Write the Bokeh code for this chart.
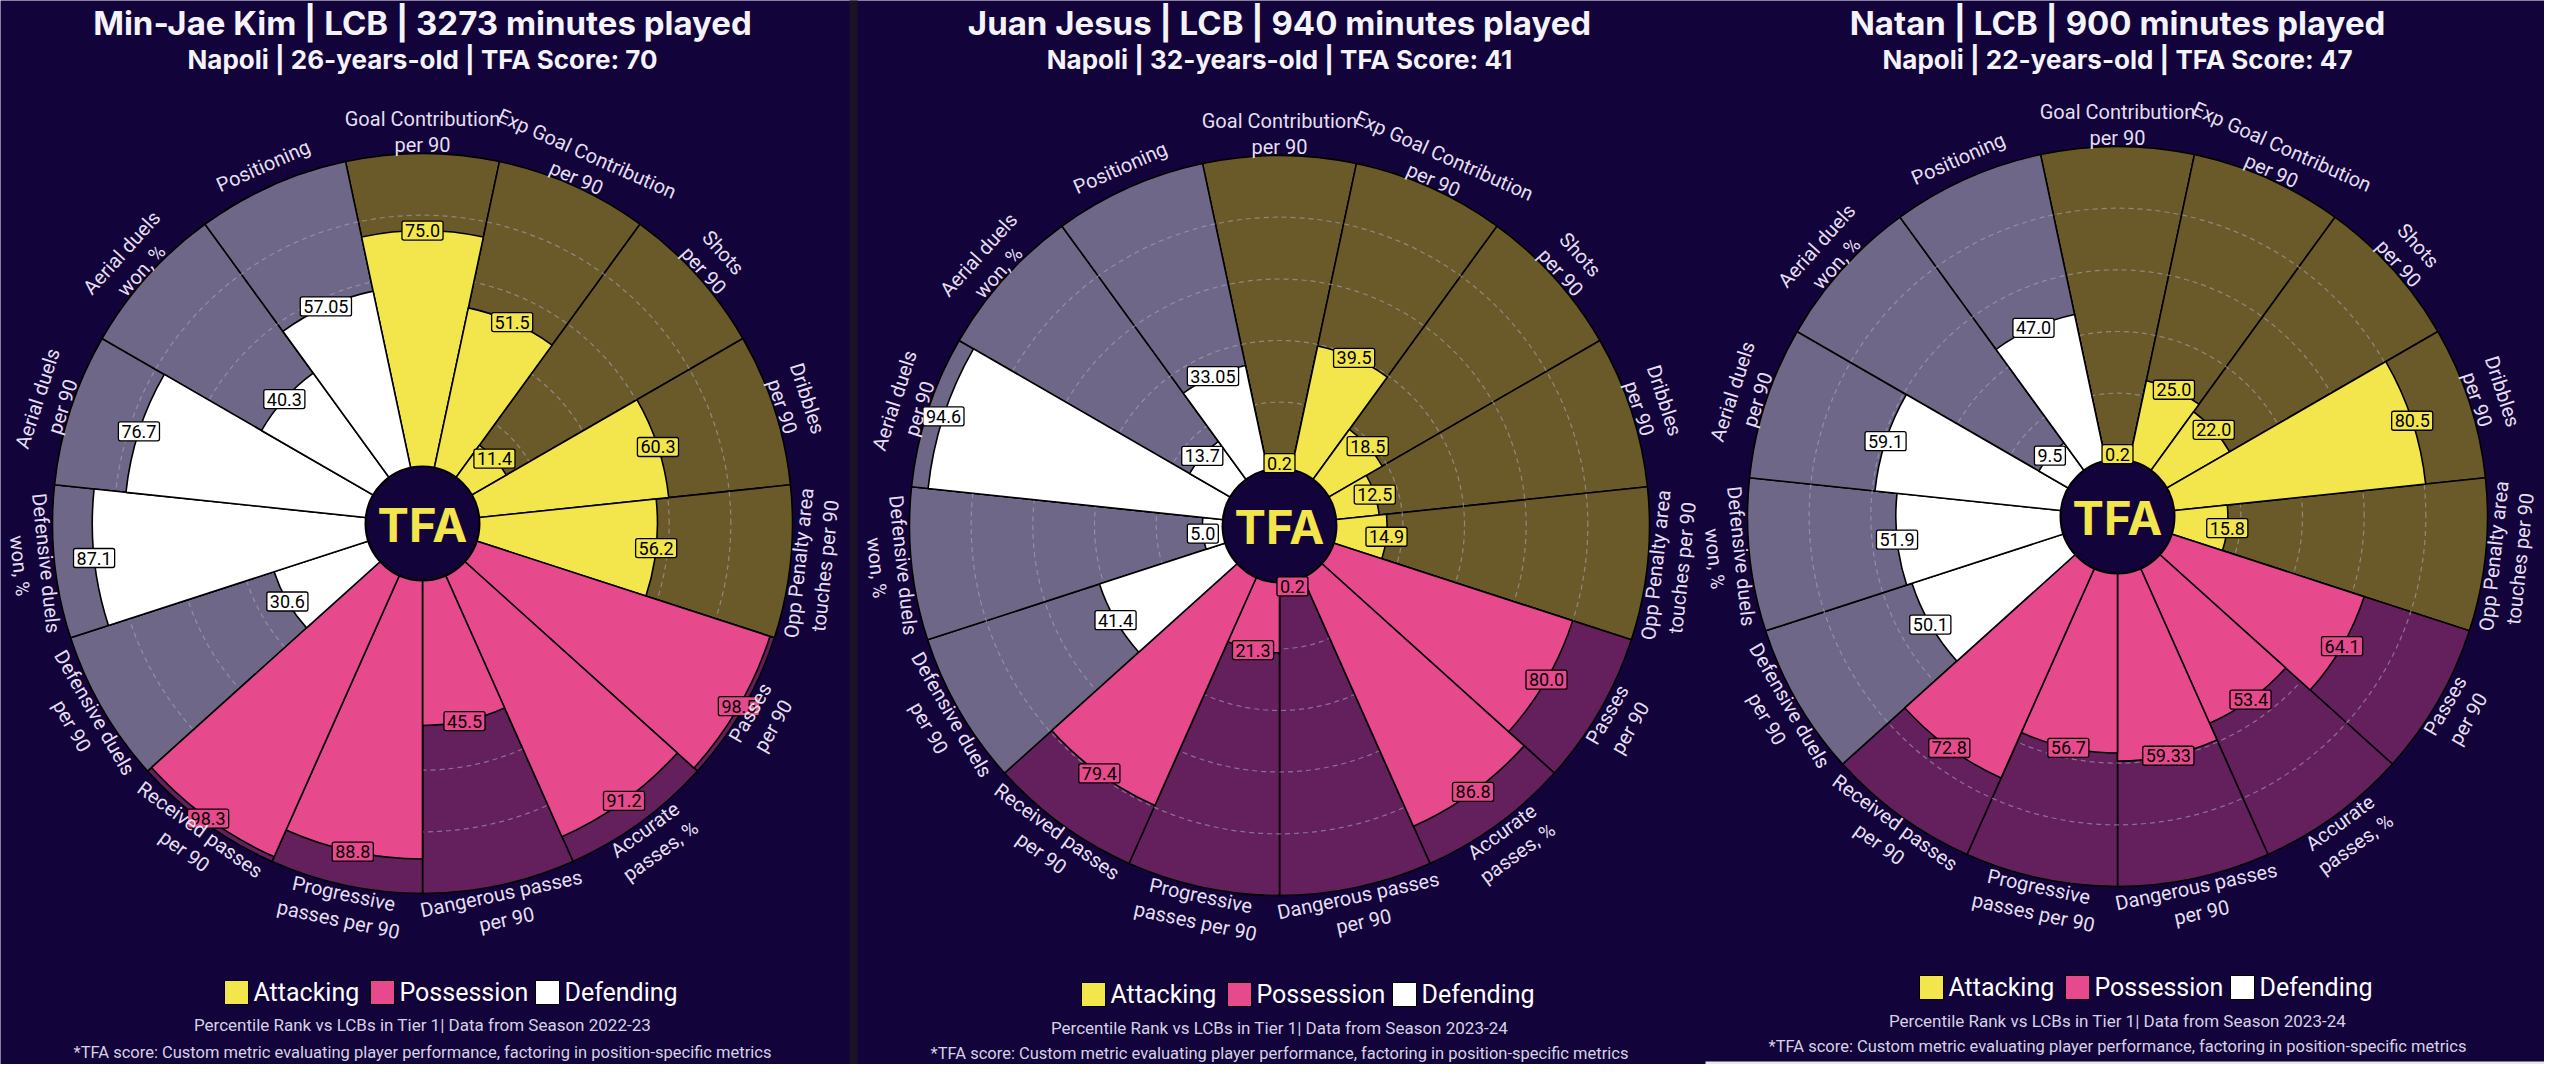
import numpy as np
from bokeh.plotting import figure
from bokeh.models import Range1d
from bokeh.embed import file_html
from bokeh.resources import INLINE
from bokeh.core.properties import value

# ---------------- data ----------------
params = ["Goal Contribution\nper 90", "Exp Goal Contribution\nper 90", "Shots\nper 90",
          "Dribbles\nper 90", "Opp Penalty area\ntouches per 90", "Passes\nper 90",
          "Accurate\npasses, %", "Dangerous passes\nper 90", "Progressive\npasses per 90",
          "Received passes\nper 90", "Defensive duels\nper 90", "Defensive duels\nwon, %",
          "Aerial duels\nper 90", "Aerial duels\nwon, %", "Positioning"]
categories = ["Attacking"] * 5 + ["Possession"] * 5 + ["Defending"] * 5

kim_values = [75.0, 51.5, 11.4, 60.3, 56.2, 98.5, 91.2, 45.5, 88.8, 98.3, 30.6, 87.1, 76.7, 40.3, 57.05]
jesus_values = [0.2, 39.5, 18.5, 12.5, 14.9, 80.0, 86.8, 0.2, 21.3, 79.4, 41.4, 5.0, 94.6, 13.7, 33.05]
natan_values = [0.2, 25.0, 22.0, 80.5, 15.8, 64.1, 53.4, 59.33, 56.7, 72.8, 50.1, 51.9, 59.1, 9.5, 47.0]

titles = ["Min-Jae Kim | LCB | 3273 minutes played",
          "Juan Jesus | LCB | 940 minutes played",
          "Natan | LCB | 900 minutes played"]
subtitles = ["Napoli | 26-years-old | TFA Score: 70",
             "Napoli | 32-years-old | TFA Score: 41",
             "Napoli | 22-years-old | TFA Score: 47"]
seasons = ["2022-23", "2023-24", "2023-24"]
legend_names = ["Attacking", "Possession", "Defending"]
grid_levels = [20, 40, 60, 80]

# ---------------- style ----------------
BG = "#12033a"
BAR = {"Attacking": "#f2e64c", "Possession": "#e7498d", "Defending": "#ffffff"}
BACK = {"Attacking": "#6a5a2a", "Possession": "#63205d", "Defending": "#6e6787"}
LABEL_COL = "#e4dff0"
R = 370.0
R_IN = 57.0
FONT = value("Roboto")
TFONT = value("Inter")

W, H = 2544, 1064
p = figure(width=W, height=H, x_range=Range1d(8, 2552), y_range=Range1d(8, 1072),
           output_backend="svg", toolbar_location=None, min_border=0,
           x_axis_location=None, y_axis_location=None,
           background_fill_color=BG, border_fill_color=BG)
p.grid.visible = False
p.outline_line_color = None


def Y(yref):
    return 1080 - yref


def rad(v):
    return R * (np.asarray(v, dtype=float) + 20.0) / 120.0


# panel separators / edges
p.quad(left=[857], right=[865], bottom=[Y(1080)], top=[Y(0)], fill_color="#1b1226", line_color=None)
p.quad(left=[1713], right=[2560], bottom=[Y(1080)], top=[Y(1069)], fill_color="#e8e6f0", line_color=None)

panels = [
    dict(cx=430, cy=531, vals=kim_values, legend_y=1000, pct_y=1032, foot_y=1060),
    dict(cx=1287, cy=533, vals=jesus_values, legend_y=1002, pct_y=1035, foot_y=1061),
    dict(cx=2125, cy=524, vals=natan_values, legend_y=995, pct_y=1028, foot_y=1054),
]

n = len(params)
theta_deg = 90.0 - 24.0 * np.arange(n)
theta = np.deg2rad(theta_deg)
half = np.deg2rad(12.0)

rot = theta_deg - 90.0
rot = (rot + 180.0) % 360.0 - 180.0
rot = np.where(rot < -90, rot + 180, np.where(rot > 90, rot - 180, rot))
rot_rad = np.deg2rad(rot)

bar_cols = [BAR[c] for c in categories]
back_cols = [BACK[c] for c in categories]

for i, pan in enumerate(panels):
    cx, cy = pan["cx"], Y(pan["cy"])
    vals = pan["vals"]
    # background slices
    p.wedge(x=cx, y=cy, radius=R, start_angle=theta - half, end_angle=theta + half,
            fill_color=back_cols, line_color="#000000", line_width=1.6)
    # dashed grid circles
    for g in grid_levels:
        p.arc(x=cx, y=cy, radius=float(rad(g)), start_angle=0, end_angle=2 * np.pi,
              line_color="#b3adc4", line_alpha=0.55, line_width=1.2, line_dash="5 4")
    # value slices
    p.wedge(x=cx, y=cy, radius=rad(vals), start_angle=theta - half, end_angle=theta + half,
            fill_color=bar_cols, line_color="#000000", line_width=1.6)
    # centre
    p.circle(x=[cx], y=[cy], radius=R_IN, fill_color=BG, line_color="#000000", line_width=2)
    p.text(x=[cx], y=[cy - 1], text=["TFA"], text_color="#f2e64c", text_font=TFONT,
           text_font_style="bold", text_font_size="47px", text_align="center", text_baseline="middle")
    # value labels
    rv = rad(vals)
    p.text(x=cx + rv * np.cos(theta), y=cy + rv * np.sin(theta), text=[str(v) for v in vals],
           text_color="#000000", text_font=FONT, text_font_size="18px",
           text_align="center", text_baseline="middle",
           background_fill_color=bar_cols, border_line_color="#000000", border_line_width=1.3,
           padding=3, border_radius=2)
    # parameter labels
    rl = float(rad(107))
    p.text(x=cx + rl * np.cos(theta), y=cy + rl * np.sin(theta), text=params, angle=rot_rad,
           text_color=LABEL_COL, text_font=FONT, text_font_size="20px",
           text_align="center", text_baseline="middle", text_line_height=1.1)
    # titles
    p.text(x=[cx], y=[Y(30)], text=[titles[i]], text_color="#f5f3fa", text_font=TFONT,
           text_font_style="bold", text_font_size="33px", text_align="center", text_baseline="middle")
    p.text(x=[cx], y=[Y(67)], text=[subtitles[i]], text_color="#f5f3fa", text_font=TFONT,
           text_font_style="bold", text_font_size="26px", text_align="center", text_baseline="middle")
    # legend
    ly = Y(pan["legend_y"])
    offs = [-198, -52, 113]
    for k, name in enumerate(legend_names):
        x0 = cx + offs[k]
        p.quad(left=[x0], right=[x0 + 24], bottom=[ly - 12], top=[ly + 12],
               fill_color=BAR[name], line_color="#000000", line_width=1)
        p.text(x=[x0 + 29], y=[ly], text=[name], text_color="#ffffff", text_font=FONT,
               text_font_size="25px", text_align="left", text_baseline="middle")
    p.text(x=[cx], y=[Y(pan["pct_y"])],
           text=["Percentile Rank vs LCBs in Tier 1| Data from Season " + seasons[i]],
           text_color="#d6d2e4", text_font=FONT, text_font_size="17px",
           text_align="center", text_baseline="middle")
    p.text(x=[cx], y=[Y(pan["foot_y"])],
           text=["*TFA score: Custom metric evaluating player performance, factoring in position-specific metrics"],
           text_color="#d6d2e4", text_font=FONT, text_font_size="16.5px",
           text_align="center", text_baseline="middle")

open("out.html", "w").write(file_html(p, INLINE))
